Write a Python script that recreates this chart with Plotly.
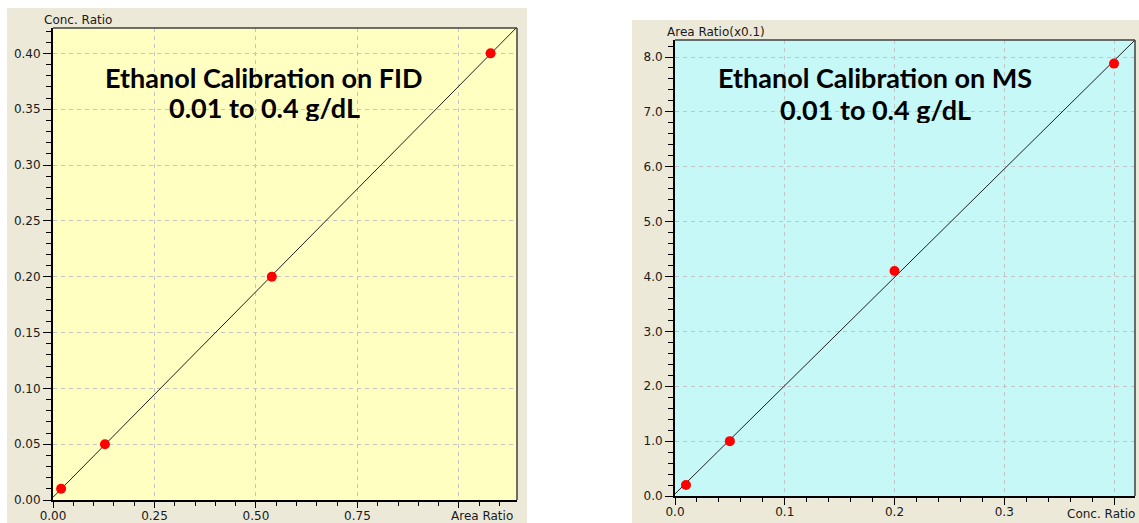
import numpy as np
import plotly.graph_objects as go

W, H = 1139, 523

# ---- data ----
fid_area_ratio = [0.02, 0.128, 0.539, 1.078]
fid_conc_ratio = [0.01, 0.05, 0.20, 0.40]
ms_conc_ratio = [0.01, 0.05, 0.20, 0.40]
ms_area_ratio = [0.2, 1.0, 4.1, 7.88]

fid_x_tickvals = [0, 0.25, 0.5, 0.75, 1.0]
fid_x_ticktext = ["0.00", "0.25", "0.50", "0.75", ""]
ms_x_tickvals = [0, 0.1, 0.2, 0.3, 0.4]
ms_x_ticktext = ["0.0", "0.1", "0.2", "0.3", ""]

fid_x_name, fid_y_name = "Area Ratio", "Conc. Ratio"
ms_x_name, ms_y_name = "Conc. Ratio", "Area Ratio(x0.1)"

fid_title = ["Ethanol Calibration on FID", "0.01 to 0.4 g/dL"]
ms_title = ["Ethanol Calibration on MS", "0.01 to 0.4 g/dL"]

# ---- layout constants ----
def px_x(p):
    return p / W

def px_y(p):
    return 1 - p / H

L_dom_x = [px_x(53), px_x(517)]
L_dom_y = [px_y(500), px_y(28)]
R_dom_x = [px_x(675), px_x(1135)]
R_dom_y = [px_y(496), px_y(40)]

L_xr = [0, 1.143]
L_yr = [0, 0.4227]
R_xr = [0, 0.4191]
R_yr = [0, 8.31]

GREY = "#ECE9D8"
YELLOW = "#FFFFC2"
CYAN = "#C6F8F8"
tickfont = dict(family="DejaVu Sans", size=12, color="#1a1a1a")

fig = go.Figure()

# regression lines from data
for xs, ys, xr, ax in [(fid_area_ratio, fid_conc_ratio, L_xr, ("x", "y")),
                       (ms_conc_ratio, ms_area_ratio, R_xr, ("x2", "y2"))]:
    m, b = np.polyfit(xs, ys, 1)
    lx = np.array(xr)
    fig.add_trace(go.Scatter(x=lx, y=m * lx + b, mode="lines",
                             line=dict(color="#202020", width=1),
                             xaxis=ax[0], yaxis=ax[1], showlegend=False,
                             hoverinfo="skip"))
    fig.add_trace(go.Scatter(x=xs, y=ys, mode="markers",
                             marker=dict(color="#FF0000", size=10),
                             xaxis=ax[0], yaxis=ax[1], showlegend=False))

grid = dict(showgrid=True, gridcolor="#C4C4C4", griddash="4px,4px", gridwidth=1,
            zeroline=False, showline=True, linecolor="black", linewidth=2,
            ticks="outside", tickcolor="black", tickwidth=1,
            tickfont=tickfont, fixedrange=True, automargin=False)

fig.update_layout(
    width=W, height=H,
    margin=dict(l=0, r=0, t=0, b=0, autoexpand=False),
    paper_bgcolor="white",
    plot_bgcolor="rgba(0,0,0,0)",
    xaxis=dict(domain=L_dom_x, range=L_xr, anchor="y",
               tickmode="array", tickvals=fid_x_tickvals, ticktext=fid_x_ticktext,
               ticklen=6, ticklabelstandoff=-2,
               minor=dict(dtick=0.05, tick0=0, ticks="outside", ticklen=4,
                          tickcolor="black", showgrid=False),
               **grid),
    yaxis=dict(domain=L_dom_y, range=L_yr, anchor="x",
               dtick=0.05, tick0=0, tickformat=".2f", ticklen=8,
               minor=dict(dtick=0.01, tick0=0, ticks="outside", ticklen=5,
                          tickcolor="black", showgrid=False),
               **grid),
    xaxis2=dict(domain=R_dom_x, range=R_xr, anchor="y2",
                tickmode="array", tickvals=ms_x_tickvals, ticktext=ms_x_ticktext,
                ticklen=7, ticklabelstandoff=-3,
                minor=dict(dtick=0.02, tick0=0, ticks="outside", ticklen=4,
                           tickcolor="black", showgrid=False),
                **grid),
    yaxis2=dict(domain=R_dom_y, range=R_yr, anchor="x2",
                dtick=1, tick0=0, tickformat=".1f", ticklen=8,
                minor=dict(dtick=0.2, tick0=0, ticks="outside", ticklen=5,
                           tickcolor="black", showgrid=False),
                **grid),
)

shapes = [
    dict(type="rect", xref="paper", yref="paper", x0=px_x(7), x1=px_x(527),
         y0=0, y1=px_y(8), fillcolor=GREY, line=dict(width=0), layer="below"),
    dict(type="rect", xref="paper", yref="paper", x0=px_x(632), x1=1,
         y0=0, y1=px_y(20), fillcolor=GREY, line=dict(width=0), layer="below"),
]
for xa, ya, col in [("x", "y", YELLOW), ("x2", "y2", CYAN)]:
    shapes.append(dict(type="rect", xref=f"{xa} domain", yref=f"{ya} domain",
                       x0=0, x1=1, y0=0, y1=1, fillcolor=col,
                       line=dict(width=0), layer="below"))
    shapes.append(dict(type="line", xref=f"{xa} domain", yref=f"{ya} domain",
                       x0=0, x1=1, y0=1, y1=1, line=dict(color="#404040", width=1.5),
                       layer="above"))
    shapes.append(dict(type="line", xref=f"{xa} domain", yref=f"{ya} domain",
                       x0=1, x1=1, y0=0, y1=1, line=dict(color="#404040", width=1.5),
                       layer="above"))
fig.update_layout(shapes=shapes)

titlefont = dict(family="Lato", size=27, color="black")
ann = [
    dict(text=fid_y_name, xref="x domain", yref="y domain", x=0, y=1,
         xanchor="left", yanchor="bottom", xshift=-11, yshift=-1,
         showarrow=False, font=tickfont),
    dict(text=ms_y_name, xref="x2 domain", yref="y2 domain", x=0, y=1,
         xanchor="left", yanchor="bottom", xshift=-10, yshift=-1,
         showarrow=False, font=tickfont),
    dict(text=fid_x_name, xref="paper", yref="paper",
         x=px_x(449), y=px_y(516), xanchor="left", yanchor="middle",
         showarrow=False, font=tickfont),
    dict(text=ms_x_name, xref="paper", yref="paper",
         x=px_x(1137), y=px_y(514), xanchor="right", yanchor="middle",
         showarrow=False, font=tickfont),
]
for lines, cx, ys in [(fid_title, 264, (77, 107)), (ms_title, 875, (77, 109))]:
    for txt, cy in zip(lines, ys):
        ann.append(dict(text=f"<b>{txt}</b>", xref="paper", yref="paper",
                        x=px_x(cx), y=px_y(cy), xanchor="center", yanchor="middle",
                        height=28, showarrow=False, font=titlefont))
fig.update_layout(annotations=ann)

fig.write_html("out.html", config={"displayModeBar": False},
               post_script="document.body.style.margin='0';document.body.style.overflow='hidden';")
